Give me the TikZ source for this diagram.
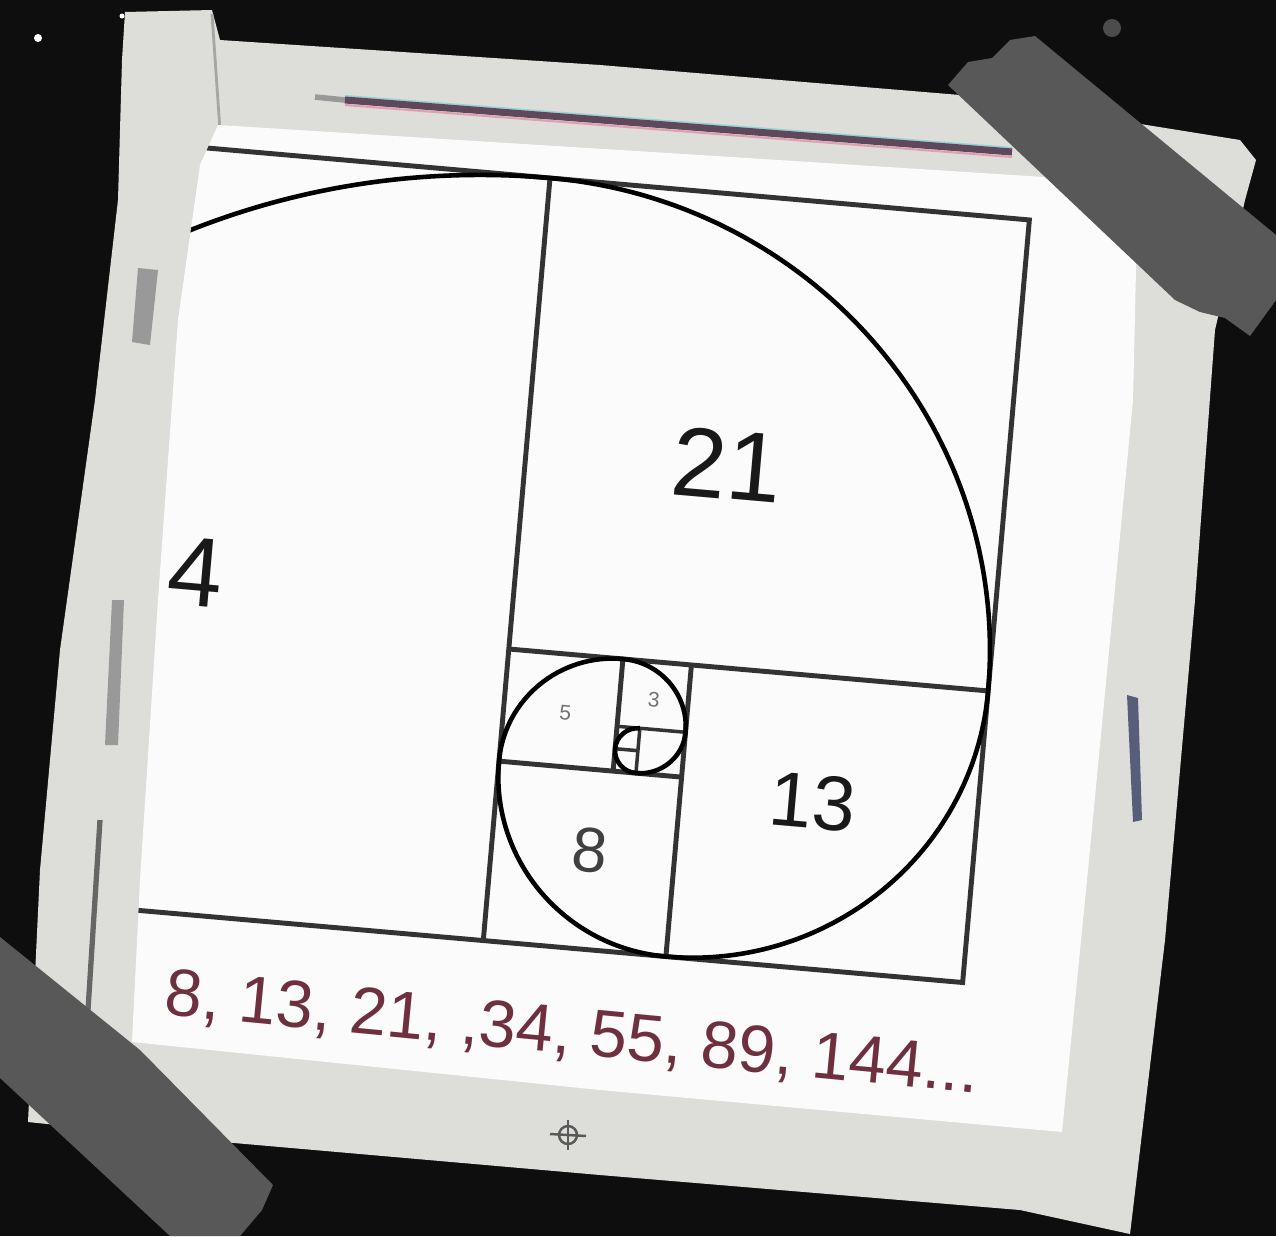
\documentclass[tikz,border=0pt]{standalone}
\usepackage{fontspec}
\setmainfont{Liberation Sans}
\usepackage{tikz}
\usetikzlibrary{positioning}
\definecolor{board}{RGB}{14,14,14}
\definecolor{paper}{RGB}{221,221,218}
\definecolor{sheet}{RGB}{251,251,251}
\definecolor{tape}{RGB}{88,88,88}
\definecolor{ink}{RGB}{110,48,62}
\definecolor{stripe}{RGB}{96,72,92}
\definecolor{stripetop}{RGB}{150,210,215}
\definecolor{stripelow}{RGB}{225,160,175}
\definecolor{bluetab}{RGB}{88,94,122}
\begin{document}
\begin{tikzpicture}[x=0.01cm, y=-0.01cm,
  sqline/.style={draw=black!80, line width=1.4pt},
  thinline/.style={draw=black!80, line width=1pt},
  spiral/.style={draw=black, line width=1.3pt},
  lbl/.style={inner sep=0pt, text=black!90, transform shape},
  tapestrip/.style={fill=tape, draw=none}]
\useasboundingbox (0,0) rectangle (1276,1236);
\fill[board] (0,0) rectangle (1276,1236);
\fill[white] (38,38) circle (4);
\fill[white] (122,16) circle (2.5);
\fill[black!70] (1112,28) circle (9);
\fill[paper] (125,12) -- (212,10) -- (220,40) -- (600,65) -- (960,95) -- (1240,140) -- (1256,160) -- (1245,200) -- (1215,330) -- (1195,600) -- (1165,940) -- (1130,1234) -- (1020,1210) -- (600,1175) -- (200,1140) -- (28,1122) -- (40,870) -- (60,650) -- (95,400) -- (118,200) -- (122,60) -- cycle;
\draw[black!35, line width=0.8pt] (212,14) -- (222,160);
\draw[black!60, line width=1.5pt] (100,820) -- (88,1010);
\fill[black!40] (138,268) -- (158,270) -- (150,345) -- (132,342) -- cycle;
\fill[black!40] (112,600) -- (124,600) -- (118,745) -- (105,745) -- cycle;
\fill[bluetab] (1127,695) -- (1138,698) -- (1142,820) -- (1133,822) -- cycle;
\fill[sheet] (218,125) -- (700,155) -- (1138,183) -- (1133,400) -- (1088,870) -- (1062,1132) -- (600,1090) -- (132,1042) -- (140,880) -- (158,600) -- (178,320) -- (200,165) -- cycle;
\draw[black!40, line width=1.6pt] (315,97) -- (345,100);
\draw[stripetop, line width=0.6pt] (345,96) -- (1012,148);
\draw[stripe, line width=2pt] (345,100) -- (1012,152);
\draw[stripelow, line width=0.6pt] (345,105) -- (1012,157);
\begin{scope}
\clip (218,125) -- (700,155) -- (1138,183) -- (1133,400) -- (1088,870) -- (1062,1132) -- (600,1090) -- (132,1042) -- (140,880) -- (158,600) -- (178,320) -- (200,165) -- cycle;
\begin{scope}[shift={(550,178)}, rotate=-5, x=0.229cm, y=-0.225cm]
\draw[sqline] (-34,0) -- (21,0) -- (21,34) -- (-34,34);
\draw[sqline] (0,0) -- (0,34);
\draw[sqline] (0,21) -- (21,21);
\draw[sqline] (8,21) -- (8,34);
\draw[sqline] (0,26) -- (8,26);
\draw[sqline] (5,21) -- (5,26);
\draw[thinline] (5,24) -- (8,24);
\draw[thinline] (6,24) -- (6,26);
\draw[thinline] (5,25) -- (6,25);
\draw[spiral] (-34,34) arc[start angle=180, end angle=270, radius=34]
  arc[start angle=270, end angle=360, radius=21]
  arc[start angle=0, end angle=90, radius=13]
  arc[start angle=90, end angle=180, radius=8]
  arc[start angle=180, end angle=270, radius=5]
  arc[start angle=270, end angle=360, radius=3]
  arc[start angle=0, end angle=90, radius=2]
  arc[start angle=90, end angle=180, radius=1]
  arc[start angle=180, end angle=270, radius=1];
\node[lbl, font=\fontsize{28}{28}\selectfont] (n21) at (8.8,12) {21};
\node[lbl, font=\fontsize{28}{28}\selectfont] (n4) at (-13.9,18.8) {4};
\node[lbl, font=\fontsize{22}{22}\selectfont] (n13) at (13.8,26.6) {13};
\node[lbl, font=\fontsize{18}{18}\selectfont, text=black!75] (n8) at (4.3,29.6) {8};
\node[lbl, font=\fontsize{6}{6}\selectfont, text=black!55] (n5) at (2.7,23.6) {5};
\node[lbl, font=\fontsize{6}{6}\selectfont, text=black!55] (n3) at (6.5,22.7) {3};
\end{scope}
\end{scope}
\node[inner sep=0pt, text=ink, rotate=-5.5, font=\fontsize{19}{19}\selectfont] (seq) at (572,1035) {8, 13, 21, ,34, 55, 89, 144...};
\draw[black!65, line width=0.7pt] (568,1135) circle (9);
\draw[black!65, line width=0.7pt] (550,1134) -- (586,1136);
\draw[black!65, line width=0.7pt] (568,1120) -- (568,1150);
\fill[tapestrip] (948,85) -- (968,62) -- (992,58) -- (1010,40) -- (1035,36) -- (1276,235) -- (1276,300) -- (1250,336) -- (1225,318) -- (1200,312) -- (1175,300) -- cycle;
\fill[tapestrip] (0,937) -- (140,1050) -- (273,1185) -- (262,1210) -- (240,1236) -- (170,1236) -- (0,1078) -- cycle;
\end{tikzpicture}
\end{document}
